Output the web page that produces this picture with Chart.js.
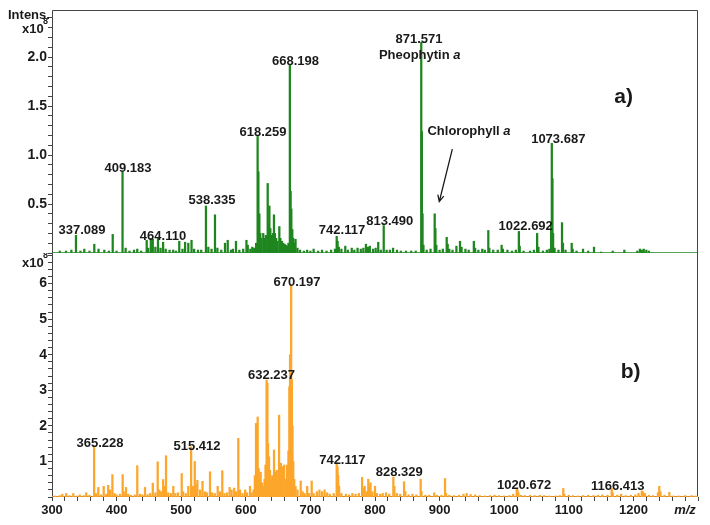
<!DOCTYPE html>
<html>
<head>
<meta charset="utf-8">
<script src="https://cdn.jsdelivr.net/npm/chart.js@4/dist/chart.umd.min.js"></script>
<style>
  body { margin: 0; background: #fff; }
  #wrap { position: relative; width: 710px; height: 525px; background: #fff; }
  canvas { position: absolute; left: 0; }
</style>
</head>
<body>
<div id="wrap">
  <canvas id="topChart" width="710" height="254" style="top:0"></canvas>
  <canvas id="bottomChart" width="710" height="272" style="top:253px"></canvas>
</div>
<script>
// m/z range and tick labels
var mzRange = [300, 1300];
var xTickLabels = [300, 400, 500, 600, 700, 800, 900, 1000, 1100, 1200];
var topTickLabels = [0.5, 1.0, 1.5, 2.0];
var bottomTickLabels = [1, 2, 3, 4, 5, 6];

// panel a) peaks, intensity x10^8
var topMz = [
  312, 321.7, 330, 337.1, 344, 350, 358, 365.5, 372, 381, 388, 394, 400, 409.2, 414, 420, 427, 432, 438,
  446.6, 449, 453, 456, 460, 464.1, 468, 472, 476, 482, 487.6, 492, 497, 502, 506, 511, 516, 520, 526, 531,
  538.3, 542, 547, 552.3, 556, 562, 567.8, 572, 577, 580, 584.8, 590, 596, 601, 603, 607, 610, 613,
  616, 618.3, 619.5, 621, 622.5, 624, 627, 629, 631, 633.9, 635, 636.5, 638, 640, 642, 643.6, 645, 647, 649,
  651.9, 653.5, 656, 658, 660, 662, 664, 666, 668.2, 669.4, 670.5, 672, 673.5, 675, 677, 680, 684, 690, 695,
  700, 705, 712, 718, 725, 732,
  738, 740.7, 742.1, 744, 748, 754, 758, 764, 768, 773, 778, 782, 786, 789, 792, 797, 801, 805, 809, 813.5,
  818, 823, 828, 834, 840, 848, 856, 863,
  871.6, 872.6, 873.6, 875, 880, 886, 892.4, 893.5, 895, 900, 905, 911, 912.5, 915, 920, 926, 931.6, 934,
  940, 945, 953, 955, 960, 966, 970, 975.4, 977, 983, 990, 996, 998,
  1005, 1012, 1018, 1022.7, 1024, 1030, 1040, 1046, 1051, 1053, 1060, 1066, 1070, 1072.7, 1073.7, 1074.7,
  1075.7, 1078, 1084, 1089.5, 1091, 1095, 1104.5, 1106, 1112, 1122, 1130, 1139, 1150, 1168, 1186, 1206,
  1210, 1213, 1216, 1220, 1224
];
var topIntensity = [
  0.02, 0.02, 0.03, 0.18, 0.02, 0.04, 0.02, 0.09, 0.04, 0.03, 0.02, 0.19, 0.02, 0.83, 0.05, 0.02, 0.03, 0.04, 0.02,
  0.13, 0.05, 0.15, 0.14, 0.06, 0.16, 0.05, 0.11, 0.04, 0.03, 0.03, 0.02, 0.12, 0.04, 0.11, 0.10, 0.13, 0.04, 0.03, 0.03,
  0.48, 0.06, 0.04, 0.39, 0.05, 0.03, 0.10, 0.13, 0.03, 0.04, 0.12, 0.03, 0.04, 0.13, 0.08, 0.04, 0.06, 0.05,
  0.10, 1.19, 0.83, 0.40, 0.20, 0.15, 0.20, 0.15, 0.18, 0.71, 0.30, 0.48, 0.25, 0.18, 0.20, 0.39, 0.20, 0.15, 0.12,
  0.27, 0.15, 0.12, 0.10, 0.09, 0.08, 0.07, 0.10, 1.92, 0.63, 0.45, 0.24, 0.15, 0.10, 0.14, 0.05, 0.03, 0.02, 0.03,
  0.02, 0.04, 0.02, 0.03, 0.02, 0.03,
  0.04, 0.17, 0.12, 0.06, 0.04, 0.07, 0.03, 0.05, 0.03, 0.05, 0.04, 0.05, 0.09, 0.06, 0.07, 0.04, 0.05, 0.11, 0.03, 0.28,
  0.03, 0.03, 0.05, 0.03, 0.02, 0.02, 0.02, 0.02,
  2.15, 1.24, 0.40, 0.08, 0.03, 0.04, 0.40, 0.25, 0.08, 0.03, 0.04, 0.16, 0.09, 0.04, 0.03, 0.07, 0.12, 0.06,
  0.04, 0.03, 0.12, 0.05, 0.03, 0.04, 0.03, 0.23, 0.05, 0.03, 0.03, 0.08, 0.04,
  0.03, 0.02, 0.03, 0.22, 0.07, 0.02, 0.02, 0.03, 0.20, 0.06, 0.02, 0.03, 0.04, 0.30, 1.12, 0.76,
  0.20, 0.05, 0.03, 0.31, 0.10, 0.03, 0.10, 0.04, 0.02, 0.04, 0.02, 0.06, 0.01, 0.02, 0.03, 0.02,
  0.04, 0.03, 0.04, 0.03, 0.02
];

// panel b) peaks, intensity x10^8
var bottomMz = [
  305, 312, 316, 322, 327, 333, 338, 343, 349, 353, 358, 365.2, 368, 371.7, 376, 380, 384, 387, 390, 393.5, 397, 400,
  405, 409.4, 411, 414.6, 418, 422, 428, 432, 436, 440, 444, 448, 452, 456, 460, 463.6, 466, 469, 472, 474, 476.5,
  480, 484, 487.8, 491, 495, 500.8, 503, 507, 511, 515.4, 518, 521, 523, 525, 529, 533, 537, 540, 544.6, 548, 552,
  556.5, 560, 563.6, 567, 571, 575, 578, 582, 585, 588.4, 591, 595, 599, 602, 606.5, 609, 612,
  614, 615.8, 617, 618.4, 620, 621.5, 623, 625, 627, 629, 630.5, 632.2, 633.5, 634.5, 636, 637.5, 639, 641, 643.7,
  645, 646.5, 648, 649.5, 651.5, 653, 654.5, 656, 657.2, 659.5, 661, 662.5, 664, 666, 667.4, 668.5, 670.2, 671.3,
  672.3, 673.5, 675, 677, 680, 685, 688, 691, 695, 698, 702, 705, 710, 714, 718, 722, 726, 730, 736,
  740.7, 742, 743, 744.5, 748, 755, 760, 765, 770, 775, 780, 782, 784, 787, 789.6, 791, 793, 796, 800, 803, 808,
  812, 817, 822, 828.4, 830, 834, 839, 845, 847, 852, 858, 864, 870.7, 872, 878, 884, 891.7, 896, 903, 908.4, 910,
  915, 922,
  930, 937, 942, 948, 955, 962, 970, 978, 985, 992, 1000, 1008, 1014, 1019.4, 1020.7, 1022, 1026, 1032, 1040, 1047,
  1055, 1062, 1070, 1080, 1086, 1091.5, 1093, 1100, 1106, 1114, 1122, 1130, 1138, 1145, 1152, 1160, 1166.4, 1168,
  1175, 1181, 1188, 1196, 1203, 1208, 1212.9, 1215, 1218, 1224, 1230, 1238, 1240, 1242, 1248, 1255.6, 1262, 1270,
  1280, 1290, 1296
];
var bottomIntensity = [
  0.03, 0.04, 0.08, 0.10, 0.04, 0.10, 0.03, 0.06, 0.04, 0.12, 0.05, 1.41, 0.10, 0.27, 0.06, 0.30, 0.08, 0.33, 0.20, 0.63, 0.10, 0.06,
  0.08, 0.63, 0.15, 0.27, 0.08, 0.05, 0.06, 0.88, 0.08, 0.06, 0.27, 0.07, 0.10, 0.39, 0.12, 0.99, 0.20, 0.15, 0.49, 0.30, 1.16,
  0.12, 0.10, 0.30, 0.10, 0.12, 0.66, 0.15, 0.10, 0.30, 1.41, 0.30, 1.00, 0.35, 0.47, 0.20, 0.44, 0.15, 0.12, 0.71, 0.12, 0.10,
  0.30, 0.15, 0.74, 0.10, 0.12, 0.27, 0.20, 0.25, 0.15, 1.65, 0.20, 0.10, 0.20, 0.12, 0.30, 0.12, 0.20,
  0.60, 2.07, 0.90, 2.25, 0.80, 0.50, 0.70, 0.40, 0.30, 0.50, 0.90, 3.29, 3.20, 1.50, 1.13, 0.75, 0.50, 0.60, 1.32,
  0.50, 0.70, 0.75, 0.50, 2.30, 0.80, 0.95, 0.50, 0.85, 0.90, 0.50, 0.40, 0.90, 1.30, 3.10, 4.00, 5.96, 3.30,
  2.00, 1.00, 0.50, 0.30, 0.20, 0.45, 0.15, 0.10, 0.30, 0.10, 0.45, 0.10, 0.15, 0.20, 0.15, 0.20, 0.12, 0.08, 0.10,
  0.96, 0.85, 0.60, 0.30, 0.10, 0.08, 0.06, 0.10, 0.08, 0.10, 0.55, 0.25, 0.30, 0.15, 0.50, 0.30, 0.40, 0.15, 0.30, 0.10, 0.08,
  0.10, 0.12, 0.08, 0.56, 0.30, 0.10, 0.08, 0.43, 0.15, 0.06, 0.08, 0.06, 0.50, 0.15, 0.05, 0.05, 0.12, 0.05, 0.05, 0.52, 0.10,
  0.05, 0.04,
  0.05, 0.08, 0.10, 0.07, 0.06, 0.04, 0.03, 0.04, 0.05, 0.04, 0.03, 0.04, 0.08, 0.24, 0.20, 0.12, 0.05, 0.04, 0.05, 0.04,
  0.05, 0.04, 0.03, 0.03, 0.04, 0.24, 0.08, 0.05, 0.04, 0.03, 0.04, 0.05, 0.04, 0.05, 0.06, 0.05, 0.24, 0.12,
  0.05, 0.08, 0.04, 0.05, 0.06, 0.10, 0.17, 0.15, 0.10, 0.05, 0.04, 0.12, 0.30, 0.15, 0.05, 0.13, 0.03, 0.03,
  0.04, 0.04, 0.03
];

// peak labels: text, m/z and intensity where the label sits
var topLabels = [
  { text: '337.089', mz: 346.4, v: 0.235 },
  { text: '409.183', mz: 417.6, v: 0.867 },
  { text: '464.110', mz: 471.8, v: 0.173 },
  { text: '538.335', mz: 547.7, v: 0.534 },
  { text: '618.259', mz: 626.6, v: 1.228 },
  { text: '668.198', mz: 676.9, v: 1.952 },
  { text: '742.117', mz: 748.9, v: 0.228 },
  { text: '813.490', mz: 822.8, v: 0.319 },
  { text: '871.571', mz: 868.1, v: 2.184 },
  { text: 'Pheophytin ', italic: 'a', mz: 869.2, v: 2.013 },
  { text: 'Chlorophyll ', italic: 'a', mz: 945.5, v: 1.238 },
  { text: '1022.692', mz: 1033.3, v: 0.268 },
  { text: '1073.687', mz: 1083.7, v: 1.16 },
  { text: 'a)', mz: 1185, v: 1.595, size: 21 }
];
var bottomLabels = [
  { text: '365.228', mz: 374.3, v: 1.52 },
  { text: '515.412', mz: 524.5, v: 1.43 },
  { text: '632.237', mz: 639.8, v: 3.43 },
  { text: '670.197', mz: 679.3, v: 6.03 },
  { text: '742.117', mz: 749.4, v: 1.03 },
  { text: '828.329', mz: 837.6, v: 0.70 },
  { text: '1020.672', mz: 1030.7, v: 0.33 },
  { text: '1166.413', mz: 1175.7, v: 0.30 },
  { text: 'b)', mz: 1195.8, v: 3.52, size: 21 }
];
// arrow pointing at chlorophyll a (from, to)
var topArrow = [{ mz: 919.7, v: 1.06 }, { mz: 899.5, v: 0.525 }];

var FONT = 'Arial, "Liberation Sans", sans-serif';
var GREEN = '#1e861e';
var ORANGE = '#fca62c';
var INK = '#1a1a1a';
var FRAME = '#454545';

Chart.defaults.font.family = FONT;
Chart.defaults.font.weight = 'bold';
Chart.defaults.color = INK;

function toPoints(mz, values) {
  return mz.map(function (m, i) { return { x: m, y: values[i] }; });
}

// frame, annotations and the intens. header
var decorPlugin = {
  id: 'decor',
  beforeDatasetsDraw: function (chart, args, opts) {
    var a = chart.chartArea, ctx = chart.ctx;
    ctx.save();
    ctx.strokeStyle = FRAME;
    ctx.lineWidth = 1;
    ctx.beginPath();
    if (opts.top) {
      ctx.moveTo(a.left + 0.5, a.bottom);
      ctx.lineTo(a.left + 0.5, a.top + 0.5);
      ctx.lineTo(a.right - 0.5, a.top + 0.5);
      ctx.lineTo(a.right - 0.5, a.bottom);
    } else {
      ctx.moveTo(a.left + 0.5, a.top);
      ctx.lineTo(a.left + 0.5, a.bottom - 0.5);
      ctx.lineTo(a.right - 0.5, a.bottom - 0.5);
      ctx.lineTo(a.right - 0.5, a.top);
    }
    ctx.stroke();
    ctx.restore();
  },
  afterDraw: function (chart, args, opts) {
    var ctx = chart.ctx, xs = chart.scales.x, ys = chart.scales.y;
    ctx.save();
    ctx.fillStyle = INK;
    ctx.textBaseline = 'middle';
    (opts.labels || []).forEach(function (l) {
      var size = l.size || 13;
      var x = xs.getPixelForValue(l.mz), y = ys.getPixelForValue(l.v);
      ctx.font = 'bold ' + size + 'px ' + FONT;
      var w1 = ctx.measureText(l.text).width;
      var w2 = 0;
      if (l.italic) {
        ctx.font = 'italic bold ' + size + 'px ' + FONT;
        w2 = ctx.measureText(l.italic).width;
      }
      var x0 = x - (w1 + w2) / 2;
      ctx.textAlign = 'left';
      ctx.font = 'bold ' + size + 'px ' + FONT;
      ctx.fillText(l.text, x0, y);
      if (l.italic) {
        ctx.font = 'italic bold ' + size + 'px ' + FONT;
        ctx.fillText(l.italic, x0 + w1, y);
      }
    });
    if (opts.arrow) {
      var p0 = { x: xs.getPixelForValue(opts.arrow[0].mz), y: ys.getPixelForValue(opts.arrow[0].v) };
      var p1 = { x: xs.getPixelForValue(opts.arrow[1].mz), y: ys.getPixelForValue(opts.arrow[1].v) };
      var ang = Math.atan2(p1.y - p0.y, p1.x - p0.x);
      ctx.strokeStyle = INK;
      ctx.lineWidth = 1.3;
      ctx.beginPath();
      ctx.moveTo(p0.x, p0.y);
      ctx.lineTo(p1.x, p1.y);
      ctx.moveTo(p1.x - 7 * Math.cos(ang - 0.45), p1.y - 7 * Math.sin(ang - 0.45));
      ctx.lineTo(p1.x, p1.y);
      ctx.lineTo(p1.x - 7 * Math.cos(ang + 0.45), p1.y - 7 * Math.sin(ang + 0.45));
      ctx.stroke();
    }
    // header text sits left of the plot
    ctx.textAlign = 'left';
    ctx.font = 'bold 13px ' + FONT;
    if (opts.top) {
      ctx.fillText('Intens.', 8, 15);
      ctx.fillText('x10', 22, 29);
      ctx.font = 'bold 9px ' + FONT;
      ctx.fillText('8', 43, 22);
    } else {
      ctx.fillText('x10', 22, 10);
      ctx.font = 'bold 9px ' + FONT;
      ctx.fillText('8', 43, 3);
      ctx.font = 'italic bold 13px ' + FONT;
      ctx.textAlign = 'center';
      ctx.fillText('m/z', 685, 257);
    }
    ctx.restore();
  }
};

function yAxis(max, step, labels) {
  return {
    min: 0, max: max,
    border: { display: false },
    grid: { drawOnChartArea: false, drawTicks: true, tickLength: 4, tickColor: FRAME },
    ticks: {
      stepSize: step, includeBounds: false, autoSkip: false, padding: 1,
      font: { size: 14, weight: 'bold' }, color: INK,
      callback: function (v) {
        var r = Math.round(v * 10) / 10;
        if (labels.indexOf(r) < 0) return '';
        return step < 0.15 ? r.toFixed(1) : String(r);
      }
    },
    afterFit: function (s) { s.width = 52; s.paddingTop = 0; s.paddingBottom = 0; }
  };
}

function xAxis(show) {
  return {
    type: 'linear', min: mzRange[0], max: mzRange[1], offset: false, display: show,
    border: { display: false },
    grid: { drawOnChartArea: false, drawTicks: true, tickLength: 4, tickColor: FRAME, offset: false },
    ticks: {
      stepSize: 20, autoSkip: false, maxRotation: 0, padding: 2,
      font: { size: 13, weight: 'bold' }, color: INK,
      callback: function (v) { return xTickLabels.indexOf(v) >= 0 ? String(v) : ''; }
    },
    afterFit: function (s) { s.height = show ? 28 : 0; s.paddingLeft = 0; s.paddingRight = 0; }
  };
}

function makeChart(id, mz, values, color, yMax, yStep, yLabels, isTop, labels, arrow) {
  return new Chart(document.getElementById(id).getContext('2d'), {
    type: 'bar',
    data: {
      datasets: [{
        data: toPoints(mz, values),
        backgroundColor: color,
        borderWidth: 0,
        barThickness: 1.6
      }, {
        type: 'line',
        data: [{ x: mzRange[0], y: 0 }, { x: mzRange[1], y: 0 }],
        borderColor: color,
        borderWidth: 1.6,
        pointRadius: 0
      }]
    },
    options: {
      responsive: false,
      animation: false,
      devicePixelRatio: 1,
      layout: { autoPadding: false, padding: isTop ? { top: 10, right: 12, bottom: 1, left: 0 } : { top: 0, right: 12, bottom: 0, left: 0 } },
      plugins: {
        legend: { display: false },
        tooltip: { enabled: false },
        decor: { top: isTop, labels: labels, arrow: arrow }
      },
      scales: {
        x: xAxis(!isTop),
        y: yAxis(yMax, yStep, yLabels)
      }
    },
    plugins: [decorPlugin]
  });
}

document.addEventListener('DOMContentLoaded', function () {
  makeChart('topChart', topMz, topIntensity, GREEN, 2.48, 0.1, topTickLabels, true, topLabels, topArrow);
  makeChart('bottomChart', bottomMz, bottomIntensity, ORANGE, 6.86, 0.2, bottomTickLabels, false, bottomLabels, null);
});
</script>
</body>
</html>
